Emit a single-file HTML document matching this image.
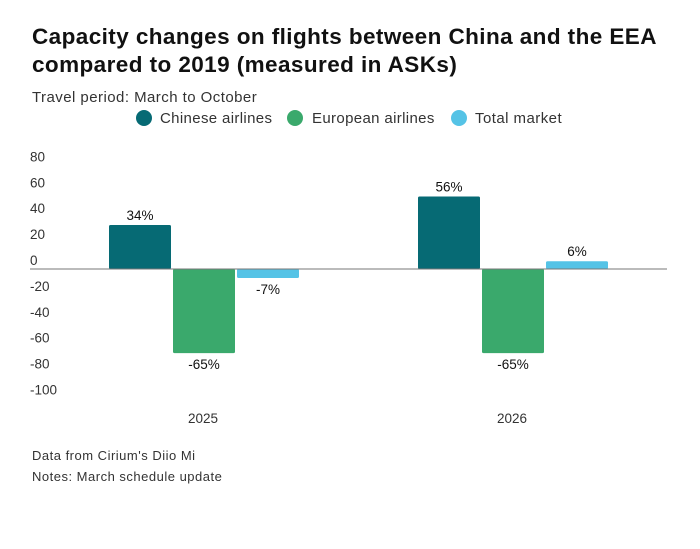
<!DOCTYPE html>
<html><head><meta charset="utf-8"><style>
body{margin:0;background:#fff;font-family:"Liberation Sans",sans-serif;}
svg text{font-family:"Liberation Sans",sans-serif;}
</style></head><body>
<svg width="700" height="544">
<text x="32" y="44" font-size="22.5" font-weight="bold" fill="#111" letter-spacing="0.42">Capacity changes on flights between China and the EEA</text>
<text x="32" y="72" font-size="22.5" font-weight="bold" fill="#111" letter-spacing="0.42">compared to 2019 (measured in ASKs)</text>
<text x="32" y="102" font-size="15" fill="#333" letter-spacing="0.45">Travel period: March to October</text>
<g>
<circle cx="144" cy="118" r="8" fill="#066a74"/>
<text x="160" y="123" font-size="15" fill="#333" letter-spacing="0.35">Chinese airlines</text>
<circle cx="295" cy="118" r="8" fill="#3aa96c"/>
<text x="312" y="123" font-size="15" fill="#333" letter-spacing="0.35">European airlines</text>
<circle cx="459" cy="118" r="8" fill="#55c3e6"/>
<text x="475" y="123" font-size="15" fill="#333" letter-spacing="0.45">Total market</text>
</g>
<g id="plot"></g>
<text x="32" y="460" font-size="13" fill="#333" letter-spacing="0.5">Data from Cirium's Diio Mi</text>
<text x="32" y="481" font-size="13" fill="#333" letter-spacing="0.5">Notes: March schedule update</text>
</svg>
<script>
const categories=["2025","2026"];
const chinese=[34,56];
const european=[-65,-65];
const total=[-7,6];
const yTicks=[80,60,40,20,0,-20,-40,-60,-80,-100];
const seriesNames=["chinese","european","total"];
const colors=["#066a74","#3aa96c","#55c3e6"];
const ns="http://www.w3.org/2000/svg";
const g=document.getElementById('plot');
function y(v){return 269-v*1.294;}
function groupX(i){return 109+i*309;}
function mk(t,a){const e=document.createElementNS(ns,t);for(const k in a)e.setAttribute(k,a[k]);g.appendChild(e);return e;}
yTicks.forEach(v=>{
 const t=mk('text',{x:30,y:y(v)-4,'font-size':13.5,fill:'#333'});
 
 
 t.textContent=v;
});
const series=[chinese,european,total];
categories.forEach((c,i)=>{
 series.forEach((s,j)=>{
  const v=s[i];const x=groupX(i)+j*64;const w=62;
  const top=Math.min(y(v),y(0)),h=Math.abs(y(v)-y(0));
  const r=mk('rect',{x:x,y:top,width:w,height:h,fill:colors[j],rx:1.5});
  
  
  const ty=v>=0?y(v)-5:y(v)+16;
  const t=mk('text',{x:x+w/2,y:ty,'font-size':13.5,fill:'#111','text-anchor':'middle'});
  
  
  t.textContent=v+'%';
 });
 const t=mk('text',{x:groupX(i)+94,y:423,'font-size':13.5,fill:'#333','text-anchor':'middle'});
 
 
 t.textContent=c;
});
const zl=mk('line',{x1:30,x2:667,y1:y(0),y2:y(0),stroke:'#777','stroke-width':1});


</script>
</body></html>
